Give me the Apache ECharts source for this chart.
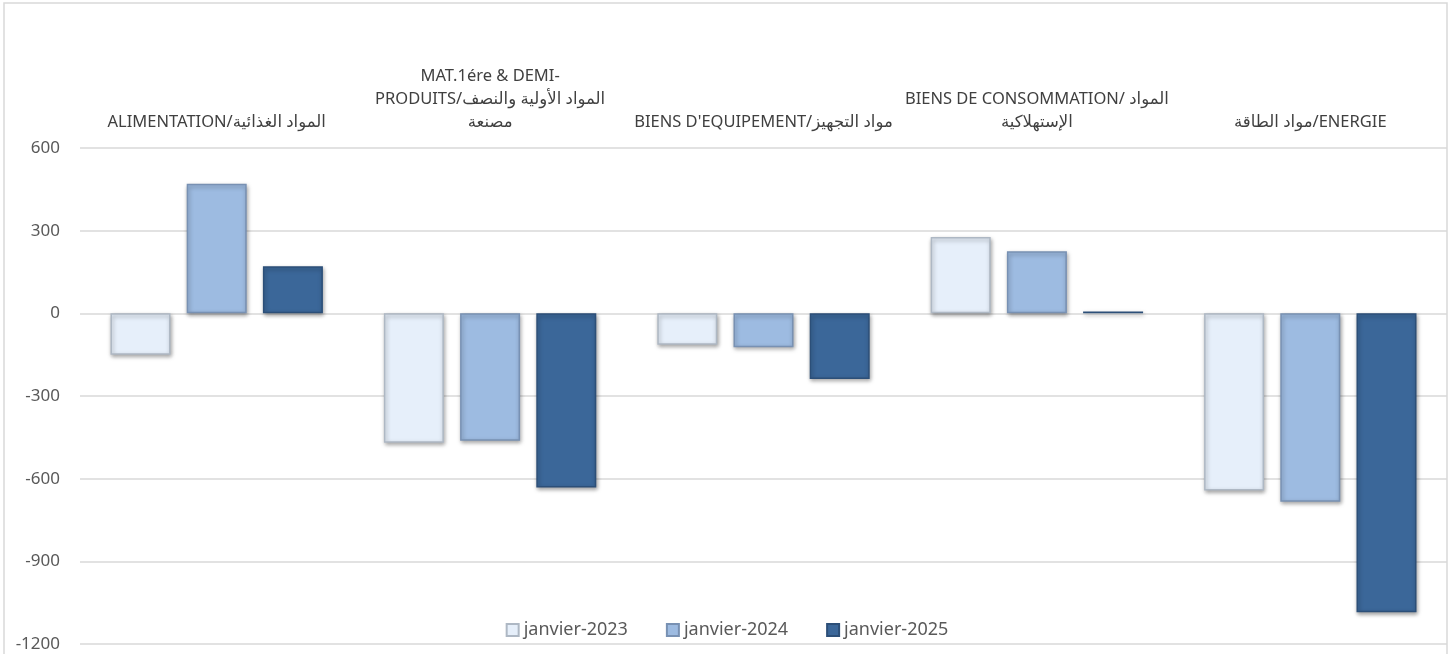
<!DOCTYPE html>
<html>
<head>
<meta charset="utf-8">
<script src="https://cdn.jsdelivr.net/npm/echarts@6/dist/echarts.min.js"></script>
<style>
  html, body { margin:0; padding:0; background:#fff; }
  #chart { width:1454px; height:654px; }
</style>
</head>
<body>
<div id="chart"></div>
<script>
// 类别 / 数据
var categories = [
  'ALIMENTATION/المواد الغذائية',
  'MAT.1ére & DEMI-\nPRODUITS/المواد الأولية والنصف\nمصنعة',
  "BIENS D'EQUIPEMENT/مواد التجهيز",
  'BIENS DE CONSOMMATION/ المواد\nالإستهلاكية',
  'مواد الطاقة/ENERGIE'
];
var seriesNames = ['janvier-2023', 'janvier-2024', 'janvier-2025'];
var data2023 = [-150, -470, -114, 277, -643];
var data2024 = [470, -462, -123, 225, -684];
var data2025 = [171, -632, -238, 7, -1085];

var chart = echarts.init(document.getElementById('chart'));

function barStyle(fill, border){
  return {
    color: fill,
    borderColor: border,
    borderWidth: 1.5,
    shadowColor: 'rgba(0,0,0,0.35)',
    shadowBlur: 4,
    shadowOffsetX: 1,
    shadowOffsetY: 2
  };
}

var option = {
  animation: false,
  textStyle: { fontFamily: 'Liberation Sans Narrow, Noto Sans, DejaVu Sans' },
  graphic: [{
    type: 'rect',
    shape: { x: 4, y: 3, width: 1443, height: 660 },
    style: { fill: 'none', stroke: '#d9d9d9', lineWidth: 1.5 },
    silent: true
  }],
  legend: {
    data: seriesNames,
    top: 616,
    left: 'center',
    itemWidth: 12,
    itemHeight: 12,
    itemGap: 38,
    icon: 'rect',
    textStyle: { fontSize: 18, color: '#595959', fontFamily: 'Noto Sans' }
  },
  grid: { left: 80, right: 7, top: 148, bottom: 10 },
  xAxis: {
    type: 'category',
    position: 'top',
    data: categories,
    axisLine: { show: false },
    axisTick: { show: false },
    axisLabel: {
      interval: 0,
      margin: 14,
      fontSize: 16.5,
      lineHeight: 23,
      color: '#404040'
    }
  },
  yAxis: {
    type: 'value',
    min: -1200,
    max: 600,
    interval: 300,
    axisLine: { show: false },
    axisTick: { show: false },
    axisLabel: {
      fontSize: 17, color: '#595959', margin: 20, fontFamily: 'Noto Sans',
      formatter: function(v){ return String(v); }
    },
    splitLine: { lineStyle: { color: '#d9d9d9', width: 1.5 } }
  },
  series: [
    {
      name: seriesNames[0],
      type: 'bar',
      barWidth: 60,
      barGap: '27%',
      itemStyle: barStyle('#e6effa', '#aeb8c4'),
      data: data2023
    },
    {
      name: seriesNames[1],
      type: 'bar',
      barWidth: 60,
      itemStyle: barStyle('#9dbbe1', '#7891b3'),
      data: data2024
    },
    {
      name: seriesNames[2],
      type: 'bar',
      barWidth: 60,
      itemStyle: barStyle('#3b6799', '#2c4f78'),
      data: data2025
    }
  ]
};
chart.setOption(option);
</script>
</body>
</html>
